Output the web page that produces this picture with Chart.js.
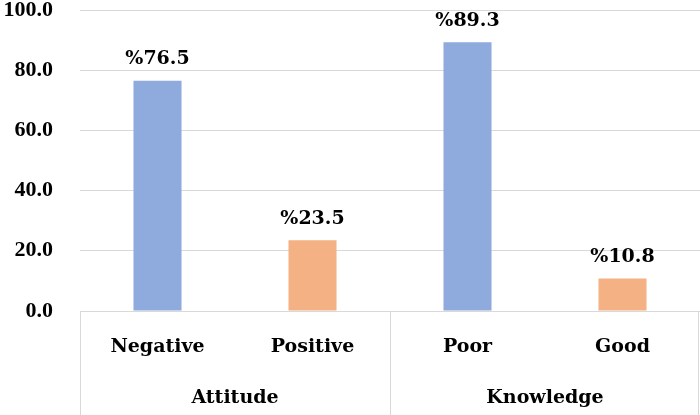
<!DOCTYPE html>
<html>
<head>
<meta charset="utf-8">
<script src="https://cdn.jsdelivr.net/npm/chart.js@4.4.1/dist/chart.umd.min.js"></script>
<style>
  html, body { margin: 0; padding: 0; background: #fff; }
  #wrap { width: 700px; height: 415px; }
</style>
</head>
<body>
<div id="wrap"><canvas id="barChart"></canvas></div>
<script>
var categories = ['Negative', 'Positive', 'Poor', 'Good'];
var groups = ['Attitude', 'Knowledge'];
var groupOf = [0, 0, 1, 1];
var values = [76.5, 23.5, 89.3, 10.8];
var barColors = ['#8FAADC', '#F4B183', '#8FAADC', '#F4B183'];

var FONT = "'DejaVu Serif', serif";
var NUM_FONT = "'Liberation Serif', serif";
var gridColor = '#d9d9d9';

// percent labels above bars + group labels and separators under the axis
var extras = {
    id: 'extras',
    afterDatasetsDraw: function (chart) {
        var ctx = chart.ctx;
        var meta = chart.getDatasetMeta(0);
        ctx.save();
        ctx.fillStyle = '#000';
        ctx.font = 'bold 19px ' + FONT;
        ctx.textAlign = 'center';
        ctx.textBaseline = 'bottom';
        meta.data.forEach(function (bar, i) {
            ctx.fillText('%' + values[i].toFixed(1), bar.x, bar.y - 12);
        });
        ctx.restore();
    },
    afterDraw: function (chart) {
        var ctx = chart.ctx;
        var x = chart.scales.x;
        var area = chart.chartArea;
        var half = (x.getPixelForValue(1) - x.getPixelForValue(0)) / 2;
        ctx.save();
        ctx.strokeStyle = gridColor;
        ctx.lineWidth = 1;
        // boundaries: left edge, between groups, right edge
        var edges = [x.getPixelForValue(0) - half];
        for (var i = 1; i < categories.length; i++) {
            if (groupOf[i] !== groupOf[i - 1]) edges.push(x.getPixelForValue(i) - half);
        }
        edges.push(x.getPixelForValue(categories.length - 1) + half);
        edges.forEach(function (ex) {
            var px = Math.min(Math.round(ex) + 0.5, chart.width - 1.5);
            ctx.beginPath();
            ctx.moveTo(px, area.bottom);
            ctx.lineTo(px, chart.height);
            ctx.stroke();
        });
        ctx.fillStyle = '#000';
        ctx.font = 'bold 19px ' + FONT;
        ctx.textAlign = 'center';
        ctx.textBaseline = 'middle';
        groups.forEach(function (g, gi) {
            var idx = [];
            groupOf.forEach(function (v, k) { if (v === gi) idx.push(k); });
            var cx = (x.getPixelForValue(idx[0]) + x.getPixelForValue(idx[idx.length - 1])) / 2;
            ctx.fillText(g, cx, area.bottom + 87);
        });
        ctx.restore();
    }
};

var ctx = document.getElementById('barChart').getContext('2d');
var myChart = new Chart(ctx, {
    type: 'bar',
    data: {
        labels: categories,
        datasets: [{
            data: values,
            backgroundColor: barColors,
            borderWidth: 0,
            barPercentage: 0.62,
            categoryPercentage: 0.5
        }]
    },
    options: {
        responsive: true,
        maintainAspectRatio: false,
        animation: false,
        layout: { autoPadding: false, padding: { top: 10, right: 0, bottom: 0, left: 0 } },
        plugins: {
            legend: { display: false },
            tooltip: { enabled: false }
        },
        scales: {
            x: {
                afterFit: function (scale) {
                    scale.height = 104;
                    scale.paddingLeft = 0;
                    scale.paddingRight = 0;
                },
                grid: { display: false, drawTicks: false },
                border: { display: true, color: gridColor },
                ticks: {
                    color: '#000',
                    padding: 25,
                    font: { family: FONT, size: 19, weight: 'bold' }
                }
            },
            y: {
                min: 0,
                max: 100,
                afterFit: function (scale) {
                    scale.width = 80;
                    scale.paddingTop = 0;
                    scale.paddingBottom = 0;
                },
                grid: { color: gridColor, drawTicks: false },
                border: { display: false },
                ticks: {
                    stepSize: 20,
                    padding: 27,
                    color: '#000',
                    font: { family: NUM_FONT, size: 22, weight: 'bold' },
                    callback: function (v) { return v.toFixed(1); }
                }
            }
        }
    },
    plugins: [extras]
});
</script>
</body>
</html>
